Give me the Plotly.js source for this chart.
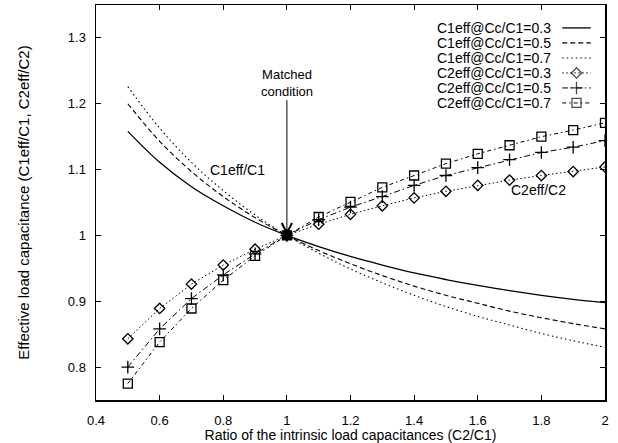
<!DOCTYPE html>
<html><head><meta charset="utf-8">
<script src="https://cdn.plot.ly/plotly-3.0.1.min.js"></script>
<style>html,body{margin:0;padding:0;background:#fff}#chart{width:618px;height:443px}</style>
</head><body><div id="chart"></div>
<script>
// x: ratio of intrinsic load capacitances (C2/C1)
const ratio = [0.5,0.6,0.7,0.8,0.9,1.0,1.1,1.2,1.3,1.4,1.5,1.6,1.7,1.8,1.9,2.0];
// C1eff/C1 curves
const c1eff_03 = [1.158,1.111,1.074,1.045,1.020,1.000,0.983,0.968,0.955,0.943,0.933,0.924,0.916,0.909,0.903,0.898];
const c1eff_05 = [1.200,1.143,1.097,1.059,1.027,1.000,0.977,0.957,0.939,0.923,0.909,0.897,0.885,0.875,0.866,0.858];
const c1eff_07 = [1.226,1.163,1.111,1.068,1.031,1.000,0.973,0.949,0.928,0.909,0.892,0.877,0.864,0.851,0.840,0.830];
// C2eff/C2 curves (markers)
const c2eff_03 = [0.843,0.889,0.926,0.955,0.979,1.000,1.017,1.032,1.045,1.057,1.067,1.076,1.084,1.091,1.097,1.104];
const c2eff_05 = [0.800,0.858,0.904,0.940,0.972,1.000,1.024,1.043,1.059,1.076,1.091,1.103,1.115,1.126,1.134,1.144];
const c2eff_07 = [0.775,0.838,0.889,0.932,0.969,1.000,1.028,1.051,1.073,1.091,1.109,1.124,1.137,1.150,1.160,1.171];
const seriesNames = ["C1eff@Cc/C1=0.3","C1eff@Cc/C1=0.5","C1eff@Cc/C1=0.7","C2eff@Cc/C1=0.3","C2eff@Cc/C1=0.5","C2eff@Cc/C1=0.7"];
const xTicks = [0.4,0.6,0.8,1,1.2,1.4,1.6,1.8,2];
const yTicks = [0.8,0.9,1,1.1,1.2,1.3];

const FONT = '"Liberation Sans", Arial, Helvetica, sans-serif';
const styles = [
  {line:{color:'#000',width:1.3,dash:'solid'}, marker:null},
  {line:{color:'#000',width:1.1,dash:'5px,3px'}, marker:null},
  {line:{color:'#000',width:1.1,dash:'1.5px,3px'}, marker:null},
  {line:{color:'#000',width:1,dash:'1.5px,2.5px'}, marker:{symbol:'diamond-open',size:8,color:'#000',line:{width:1.3,color:'#000'}}},
  {line:{color:'#000',width:1,dash:'6px,3px,1.5px,3px'}, marker:{symbol:'cross-thin-open',size:9,color:'#000',line:{width:1.3,color:'#000'}}},
  {line:{color:'#000',width:1,dash:'4px,3px,1.5px,3px'}, marker:{symbol:'square-open',size:9,color:'#000',line:{width:1.3,color:'#000'}}}
];
const ys = [c1eff_03,c1eff_05,c1eff_07,c2eff_03,c2eff_05,c2eff_07];

const traces = [];
ys.forEach((y,i)=>{
  const t = {x:ratio, y:y, name:seriesNames[i], type:'scatter', showlegend:false,
    mode: styles[i].marker ? 'lines+markers' : 'lines',
    line: Object.assign({shape: styles[i].marker ? 'linear' : 'spline'}, styles[i].line)};
  if (styles[i].marker) {
    t.marker = Object.assign({}, styles[i].marker);
    if (i === 5) t.marker.symbol = ratio.map(r => r === 1.0 ? 'square' : 'square-open');
  }
  traces.push(t);
});

// hand-built legend (text left, sample on right) on an overlay axis spanning the plot area
const legTextX = 0.898, legX0 = 0.916, legX1 = 0.972, legTop = 0.942, legStep = 0.038;
const annotations = [];
seriesNames.forEach((n,i)=>{
  const yy = legTop - i*legStep;
  annotations.push({xref:'paper',yref:'paper',x:legTextX,y:yy,xanchor:'right',yanchor:'middle',
    text:n,showarrow:false,font:{family:FONT,size:14,color:'#000'}});
  const t = {x:[legX0,(legX0+legX1)/2,legX1], y:[yy,yy,yy], xaxis:'x2', yaxis:'y2', type:'scatter',
    showlegend:false, hoverinfo:'skip', mode: styles[i].marker ? 'lines+markers':'lines', line: styles[i].line};
  if (styles[i].marker) t.marker = Object.assign({}, styles[i].marker, {size:[0,styles[i].marker.size,0]});
  traces.push(t);
});

annotations.push({x:1,y:1,xref:'x',yref:'y',ax:1,ay:1.232,axref:'x',ayref:'y',
  text:'Matched<br>condition',showarrow:true,arrowhead:5,arrowsize:2,arrowwidth:1,arrowcolor:'#000',
  standoff:0,font:{family:FONT,size:13,color:'#000'}});
annotations.push({x:0.845,y:1.1,xref:'x',yref:'y',text:'C1eff/C1',showarrow:false,
  font:{family:FONT,size:14,color:'#000'}});
annotations.push({x:1.79,y:1.069,xref:'x',yref:'y',text:'C2eff/C2',showarrow:false,
  font:{family:FONT,size:14,color:'#000'}});

const axisCommon = {showgrid:false, zeroline:false, showline:true, linecolor:'#000', linewidth:1.5,
  mirror:'ticks', ticks:'inside', ticklen:5, tickcolor:'#000', tickwidth:1,
  tickfont:{family:FONT,size:13,color:'#000'}};

const layout = {
  width:618, height:443, margin:{l:96,r:13,t:5,b:43},
  paper_bgcolor:'#fff', plot_bgcolor:'#fff', showlegend:false,
  font:{family:FONT,color:'#000'},
  xaxis: Object.assign({}, axisCommon, {range:[0.4,2], tickvals:xTicks, ticktext:xTicks.map(String),
    ticklabelstandoff:8,
    title:{text:'Ratio of the intrinsic load capacitances (C2/C1)', font:{family:FONT,size:14,color:'#000'}, standoff:1}}),
  yaxis: Object.assign({}, axisCommon, {range:[0.75,1.35], tickvals:yTicks, ticktext:yTicks.map(String),
    ticklabelstandoff:6,
    title:{text:'Effective load capacitance (C1eff/C1, C2eff/C2)', font:{family:FONT,size:15,color:'#000'}, standoff:34}}),
  xaxis2:{overlaying:'x', range:[0,1], visible:false, fixedrange:true},
  yaxis2:{overlaying:'y', range:[0,1], visible:false, fixedrange:true},
  annotations: annotations
};
Plotly.newPlot('chart', traces, layout, {staticPlot:true, displayModeBar:false});
</script></body></html>
